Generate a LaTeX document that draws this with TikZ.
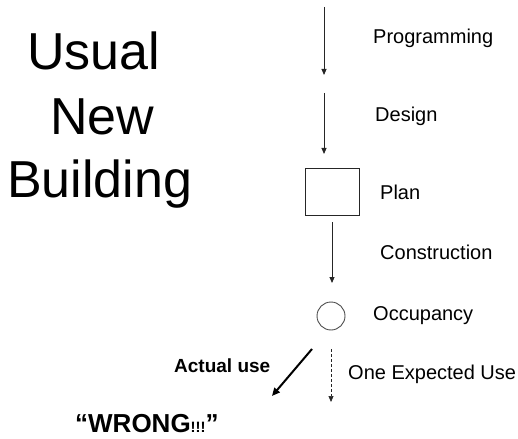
\documentclass[tikz,border=0pt]{standalone}
\usepackage{fontspec}
\setmainfont{Liberation Sans}
\usetikzlibrary{arrows.meta}
\begin{document}
\begin{tikzpicture}[x=1pt,y=-1pt,
  flow/.style={draw=black!85,line width=0.9pt,-{Triangle[width=5pt,length=6pt]}},
  expected/.style={flow,dashed,dash pattern=on 3pt off 2pt,line width=0.7pt},
  actual/.style={draw=black,line width=2pt,-{Triangle[width=7pt,length=8pt]}},
  steplabel/.style={anchor=base west,inner sep=0pt,font=\fontsize{20}{24}\selectfont},
  title/.style={anchor=base west,inner sep=0pt,font=\fontsize{52}{62}\selectfont},
  planbox/.style={draw=black!85,line width=0.9pt,minimum width=54pt,minimum height=47pt,inner sep=0pt},
  usecircle/.style={draw=black!70,line width=0.9pt,circle,minimum size=28pt,inner sep=0pt}]
\useasboundingbox (0,0) rectangle (518,438);

% heading
\node[title] (t1) at (27,70) {Usual};
\node[title] (t2) at (50,135) {New};
\node[title] (t3) at (7,197) {Building};

% stages
\node[planbox] (plan) at (332,191.5) {};
\node[usecircle] (occ) at (331,316) {};

% step labels
\node[steplabel] (lprog) at (373,44) {Programming};
\node[steplabel] (ldes) at (375,122) {Design};
\node[steplabel] (lplan) at (380,199) {Plan};
\node[steplabel] (lcons) at (380,259) {Construction};
\node[steplabel] (locc) at (373,320) {Occupancy};
\node[steplabel] (lexp) at (348,379) {One Expected Use};
\node[anchor=base west,inner sep=0pt,font=\fontsize{19}{23}\selectfont\bfseries] (lact) at (174,372) {Actual use};
\node[anchor=base west,inner sep=0pt,font=\fontsize{26}{30}\selectfont\bfseries] (wrong) at (75,432) {``WRONG{\fontsize{15}{18}\selectfont!!!}''};

% arrow end points
\coordinate (p1s) at (324,7);
\coordinate (p1e) at (324,75);
\coordinate (p2s) at (324,93);
\coordinate (p2e) at (324,154);
\coordinate (p3s) at (332,222);
\coordinate (p3e) at (332,283);
\coordinate (pas) at (312,349);
\coordinate (pae) at (272,396);
\coordinate (pes) at (331,349);
\coordinate (pee) at (331,402);

\draw[flow] (p1s) -- (p1e);
\draw[flow] (p2s) -- (p2e);
\draw[flow] (p3s) -- (p3e);
\draw[actual] (pas) -- (pae);
\draw[expected] (pes) -- (pee);
\end{tikzpicture}
\end{document}
